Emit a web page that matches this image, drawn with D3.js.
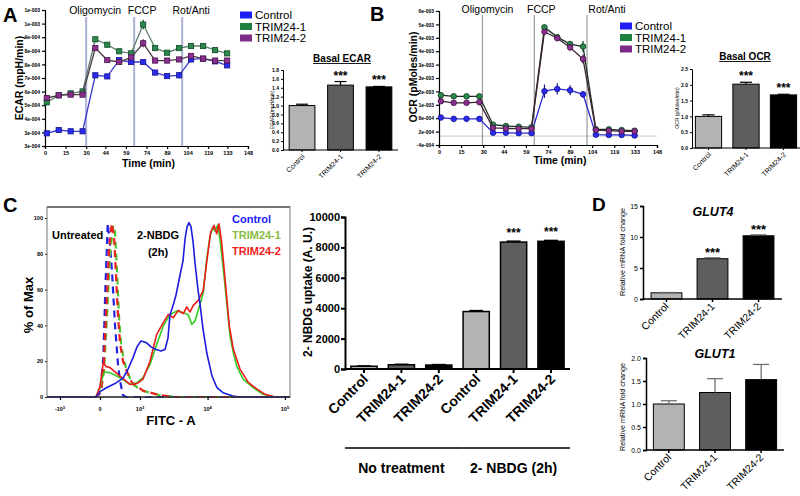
<!DOCTYPE html>
<html>
<head>
<meta charset="utf-8">
<script src="https://d3js.org/d3.v7.min.js"></script>
<style>
  html,body{margin:0;padding:0;background:#fff;}
  svg{display:block;}
</style>
</head>
<body>
<svg id="fig" width="800" height="496"></svg>
<script>
// ================= DATA =================
const seriesNames = ["Control", "TRIM24-1", "TRIM24-2"];
const times = [1.3, 10, 18.7, 27.4, 36.7, 45.4, 54.1, 62.8, 71.6, 80.3, 89, 97.8, 106.5, 115.3, 124, 132.8];
const timeTicks = [0, 15, 30, 44, 59, 74, 89, 104, 119, 133, 148];
const injectionNames = ["Oligomycin", "FCCP", "Rot/Anti"];
const injectionTimesA = [30, 65, 100];
const injectionTimesB = [29.5, 64.7, 100.5];

// ECAR (x1e-4 mpH/min)
const ecarControl = [3.31, 3.52, 3.44, 3.44, 6.94, 6.87, 7.89, 7.77, 7.77, 7.11, 6.89, 6.94, 7.93, 7.98, 7.81, 7.56];
const ecarTrim1   = [5.25, 5.69, 5.81, 5.93, 9.19, 8.85, 8.44, 8.31, 10.11, 8.64, 8.35, 8.64, 8.77, 8.77, 8.51, 8.31];
const ecarTrim2   = [5.52, 5.69, 5.73, 5.73, 8.64, 7.89, 7.77, 8.06, 8.94, 7.86, 7.86, 7.93, 8.15, 7.98, 7.86, 7.86];
const ecarControlErr = [0.10, 0.08, 0.06, 0.06, 0.12, 0.10, 0.12, 0.10, 0.12, 0.12, 0.12, 0.20, 0.12, 0.15, 0.15, 0.12];
const ecarTrim1Err   = [0.10, 0.08, 0.06, 0.08, 0.12, 0.10, 0.10, 0.10, 0.30, 0.15, 0.15, 0.15, 0.10, 0.12, 0.15, 0.15];
const ecarTrim2Err   = [0.10, 0.08, 0.08, 0.08, 0.12, 0.10, 0.10, 0.10, 0.25, 0.12, 0.12, 0.12, 0.12, 0.15, 0.15, 0.12];
const ecarTickValues = [2.52, 3.37, 4.22, 5.07, 5.92, 6.77, 7.62, 8.47, 9.32, 10.17, 11.02];
const ecarTickLabels = ["3e-004", "3e-004", "4e-004", "5e-004", "6e-004", "7e-004", "8e-004", "8e-004", "9e-004", "1e-003", "1e-003"];

// OCR (x1e-3 pMoles/min)
const ocrControl = [0.83, 0.77, 0.77, 0.77, 0.15, 0.15, 0.13, 0.13, 2.01, 2.11, 2.05, 1.87, 0.06, 0.05, 0.05, 0.03];
const ocrTrim1   = [1.83, 1.78, 1.78, 1.78, 0.51, 0.45, 0.42, 0.39, 4.87, 4.43, 4.12, 4.01, 0.30, 0.30, 0.27, 0.24];
const ocrTrim2   = [1.56, 1.49, 1.49, 1.52, 0.37, 0.34, 0.33, 0.33, 4.67, 4.38, 3.97, 3.45, 0.27, 0.24, 0.21, 0.21];
const ocrControlErr = [0.05, 0.04, 0.04, 0.04, 0.04, 0.04, 0.04, 0.04, 0.30, 0.25, 0.22, 0.15, 0.04, 0.04, 0.04, 0.04];
const ocrTrim1Err   = [0.05, 0.04, 0.04, 0.04, 0.04, 0.04, 0.04, 0.04, 0.08, 0.10, 0.12, 0.25, 0.04, 0.04, 0.04, 0.04];
const ocrTrim2Err   = [0.05, 0.04, 0.04, 0.04, 0.04, 0.04, 0.04, 0.04, 0.08, 0.10, 0.12, 0.20, 0.04, 0.04, 0.04, 0.04];
const ocrTickValues = [-0.4, 0.2, 0.8, 1.4, 2.0, 2.6, 3.2, 3.8, 4.4, 5.0, 5.6];
const ocrTickLabels = ["-4e-004", "2e-004", "8e-004", "1e-003", "2e-003", "3e-003", "3e-003", "4e-003", "4e-003", "5e-003", "6e-003"];

// Basal bars
const basalEcar = [1.0, 1.46, 1.42];
const basalEcarErr = [0.03, 0.08, 0.01];
const basalEcarTicks = [0, 0.2, 0.4, 0.6, 0.8, 1.0, 1.2, 1.4, 1.6, 1.8];
const basalOcr = [1.0, 2.02, 1.68];
const basalOcrErr = [0.05, 0.06, 0.02];
const basalOcrTicks = [0, 0.5, 1.0, 1.5, 2.0, 2.5];

// 2-NBDG uptake
const uptakeCategories = ["Control", "TRIM24-1", "TRIM24-2", "Control", "TRIM24-1", "TRIM24-2"];
const uptakeValues = [180, 280, 260, 3780, 8350, 8400];
const uptakeErr = [20, 30, 30, 60, 60, 60];
const uptakeTicks = [0, 2000, 4000, 6000, 8000, 10000];
const uptakeGroups = ["No treatment", "2- NBDG (2h)"];

// qPCR
const glut4 = [1.0, 6.5, 10.2];
const glut4Err = [0.05, 0.15, 0.15];
const glut4Ticks = [0, 5, 10, 15];
const glut1 = [1.0, 1.25, 1.53];
const glut1Err = [0.07, 0.30, 0.33];
const glut1Ticks = [0, 0.5, 1.0, 1.5, 2.0];

// Flow cytometry histograms: [FITC-A, % of Max]
const flowNbdgControl = [[-1671,0],[-56,0],[0,3],[86,5],[248,7.5],[432,10.5],[570,15.5],[731,22],[878,28],[1042,31.3],[1277,30.5],[1549,28],[1863,26.5],[2229,25.7],[2561,26.5],[2835,33],[3035,46],[3355,51],[3702,57],[4217,68],[4645,76],[4950,88],[5279,95],[5621,97.4],[5990,95],[6377,87],[6786,75],[7448,60],[7929,52],[8695,38],[9833,24],[11450,11.7],[13320,5.2],[15950,2.4],[21530,0.5],[26530,0],[116000,0]];
const flowNbdgTrim1 = [[-1671,0],[-56,0],[0,5],[27,10],[56,14],[153,13.6],[358,10.8],[632,7.1],[878,8],[1132,10.8],[1492,18.2],[1912,29.4],[2415,39.7],[3035,46],[3789,48],[4693,47],[5499,46],[6120,40.6],[6786,42.5],[7929,51.8],[8771,58.3],[9738,77],[10770,89.9],[11690,94.6],[12540,92.7],[13610,96],[14580,88],[16110,71.4],[17840,52.8],[19690,34.1],[21730,24.8],[24040,17.3],[29260,9.9],[39340,5.2],[52420,1.5],[74610,0],[116000,0]];
const flowNbdgTrim2 = [[-1671,0],[-56,0],[0,6],[27,14],[46,19.2],[86,17],[153,16.4],[358,11.7],[632,7],[878,7.5],[1132,10],[1492,20],[1912,35],[2415,41.5],[2865,46.2],[3386,44.3],[3990,48.4],[4693,46.6],[5227,50.3],[5804,47.5],[6436,51.2],[7519,54],[8771,59.6],[9738,75.4],[11010,92.1],[12160,95.9],[13200,91.2],[14160,96.8],[15340,86.3],[17460,60.3],[19280,39.8],[21730,26.8],[26530,15.6],[33930,8.2],[43520,4.5],[55620,1.5],[74610,0],[116000,0]];
const flowUntreatedControl = [[-1671,0],[-56,0],[0,2],[46,22],[75,59],[114,97],[153,85],[189,70],[248,40],[312,18],[358,9],[432,1],[512,0],[116000,0]];
const flowUntreatedTrim1 = [[-1671,0],[-56,0],[13,3],[56,15],[102,45],[153,80],[214,96],[248,92],[290,70],[334,45],[382,30],[458,20],[569,13],[731,7],[1132,3.4],[2150,1],[3583,0],[116000,0]];
const flowUntreatedTrim2 = [[-1671,0],[-56,0],[13,3],[48,15],[86,45],[135,82],[184,97],[228,90],[268,68],[312,45],[358,30],[432,20],[541,14],[697,8],[1132,3.5],[2150,1],[3583,0],[116000,0]];
const flowXTicks = [-1000, 0, 1000, 10000, 100000];
const flowXTickBase = ["-10", "0", "10", "10", "10"];
const flowXTickExp = ["3", "", "3", "4", "5"];
const flowYTicks = [0, 20, 40, 60, 80, 100];

// ================= DRAWING =================
const FONT = '"Liberation Sans", Arial, Helvetica, sans-serif';
const svg = d3.select("#fig");
svg.append("rect").attr("width", 800).attr("height", 496).attr("fill", "#fff");

function txt(g, x, y, s, o = {}) {
  const t = g.append("text").attr("x", x).attr("y", y).text(s)
    .attr("font-family", FONT).attr("font-size", o.fs || 12)
    .attr("font-weight", o.fw || "normal").attr("fill", o.fill || "#000")
    .attr("text-anchor", o.anchor || "start");
  if (o.italic) t.attr("font-style", "italic");
  if (o.rot != null) t.attr("transform", `rotate(${o.rot},${x},${y})`);
  return t;
}
function styleAxis(sel, fs, fw, sw) {
  sel.attr("font-family", FONT);
  sel.select(".domain").attr("stroke", "#000").attr("stroke-width", sw || 1.2);
  sel.selectAll(".tick line").attr("stroke", "#000").attr("stroke-width", sw || 1.2);
  sel.selectAll(".tick text").attr("font-size", fs).attr("font-weight", fw).attr("fill", "#000");
}

// Panel labels
txt(svg, 3, 22, "A", {fs: 20, fw: "bold"});
txt(svg, 370, 21, "B", {fs: 20, fw: "bold"});
txt(svg, 3, 212, "C", {fs: 20, fw: "bold"});
txt(svg, 592, 211, "D", {fs: 19, fw: "bold"});

// ---------- Seahorse line panels ----------
function drawSeahorse(o) {
  const g = svg.append("g");
  const x = d3.scaleLinear().domain([0, 148]).range([o.x0, o.x1]);
  const y = d3.scaleLinear().domain(o.yDomain).range([o.yBottom, o.yTop]);
  if (o.zeroLine) {
    g.append("line").attr("x1", o.x0).attr("x2", o.x1).attr("y1", y(0)).attr("y2", y(0))
      .attr("stroke", "#c8c8c8").attr("stroke-width", 1);
  }
  o.injTimes.forEach((t, i) => {
    g.append("line").attr("x1", x(t)).attr("x2", x(t)).attr("y1", o.injTop).attr("y2", o.yBottom)
      .attr("stroke", o.injColor).attr("stroke-width", o.injWidth);
    txt(g, x(t) + o.injDx[i], o.injLabelY, injectionNames[i], {fs: 10.5, anchor: "middle"});
  });
  const ya = g.append("g").attr("transform", `translate(${o.x0},0)`)
    .call(d3.axisLeft(y).tickValues(o.yTicks).tickFormat((d, i) => o.yLabels[i]).tickSize(3).tickPadding(2));
  styleAxis(ya, 5, "bold", 1.2);
  const xa = g.append("g").attr("transform", `translate(0,${o.yBottom})`)
    .call(d3.axisBottom(x).tickValues(timeTicks).tickSize(3).tickPadding(2));
  styleAxis(xa, 5.5, "bold", 1.2);

  o.series.forEach(s => {
    const pts = times.map((t, i) => ({t, v: s.vals[i], e: s.errs[i]}));
    g.append("path").datum(pts)
      .attr("d", d3.line().x(d => x(d.t)).y(d => y(d.v)))
      .attr("fill", "none").attr("stroke", s.line).attr("stroke-width", 1.3);
    g.selectAll(null).data(pts).join("line")
      .attr("x1", d => x(d.t)).attr("x2", d => x(d.t))
      .attr("y1", d => y(d.v - d.e)).attr("y2", d => y(d.v + d.e))
      .attr("stroke", s.stroke).attr("stroke-width", 1.2);
    if (o.marker === "square") {
      g.selectAll(null).data(pts).join("rect")
        .attr("x", d => x(d.t) - 2.6).attr("y", d => y(d.v) - 2.6)
        .attr("width", 5.2).attr("height", 5.2)
        .attr("fill", s.color).attr("stroke", s.stroke).attr("stroke-width", 0.8);
    } else {
      g.selectAll(null).data(pts).join("circle")
        .attr("cx", d => x(d.t)).attr("cy", d => y(d.v)).attr("r", 2.8)
        .attr("fill", s.color).attr("stroke", s.stroke).attr("stroke-width", 0.8);
    }
  });
  txt(g, o.yTitleX, o.yTitleY, o.yTitle, {fs: 10.5, fw: "bold", anchor: "middle", rot: -90});
  txt(g, (o.x0 + o.x1) / 2 + o.xTitleDx, o.xTitleY, "Time (min)", {fs: 10.5, fw: "bold", anchor: "middle"});
  // legend
  o.series.forEach((s, i) => {
    g.append("rect").attr("x", o.legX).attr("y", o.legY[i] - 3.5).attr("width", 12).attr("height", 7)
      .attr("fill", s.leg);
    txt(g, o.legX + 15, o.legY[i] + 4, seriesNames[i], {fs: 11.5});
  });
}

drawSeahorse({
  x0: 45, x1: 248, yTop: 10, yBottom: 146, yDomain: [2.52, 11.02],
  yTicks: ecarTickValues, yLabels: ecarTickLabels,
  injTimes: injectionTimesA, injColor: "#aeb2da", injWidth: 2, injTop: 17, injLabelY: 14, injDx: [9, 8, 9],
  marker: "square", zeroLine: false,
  series: [
    {vals: ecarControl, errs: ecarControlErr, color: "#2a2af0", stroke: "#15158a", line: "#3a3ac8", leg: "#1f1ff5"},
    {vals: ecarTrim1, errs: ecarTrim1Err, color: "#2a8a4e", stroke: "#0f4a26", line: "#5f7f6b", leg: "#1e7f40"},
    {vals: ecarTrim2, errs: ecarTrim2Err, color: "#8c3090", stroke: "#4a1550", line: "#4d3845", leg: "#7b2c86"}
  ],
  yTitle: "ECAR (mpH/min)", yTitleX: 23, yTitleY: 78, xTitleDx: 2, xTitleY: 167,
  legX: 240, legY: [15, 26.5, 38]
});

drawSeahorse({
  x0: 439, x1: 657, yTop: 11, yBottom: 145, yDomain: [-0.4, 5.6],
  yTicks: ocrTickValues, yLabels: ocrTickLabels,
  injTimes: injectionTimesB, injColor: "#9a9a9a", injWidth: 1.2, injTop: 15, injLabelY: 13, injDx: [5, 7, 20],
  marker: "circle", zeroLine: true,
  series: [
    {vals: ocrControl, errs: ocrControlErr, color: "#2a2af0", stroke: "#15158a", line: "#2a2ad0", leg: "#1f1ff5"},
    {vals: ocrTrim1, errs: ocrTrim1Err, color: "#2a8a4e", stroke: "#0f3a1e", line: "#1c2e22", leg: "#1e7f40"},
    {vals: ocrTrim2, errs: ocrTrim2Err, color: "#8c3090", stroke: "#3a1040", line: "#3a2233", leg: "#7b2c86"}
  ],
  yTitle: "OCR (pMoles/min)", yTitleX: 417, yTitleY: 77, xTitleDx: 12, xTitleY: 164,
  legX: 620, legY: [26, 37.5, 49]
});

// ---------- Bar panels ----------
function drawBars(o) {
  const g = svg.append("g");
  const n = o.values.length;
  const x = d3.scaleBand().domain(d3.range(n)).range([o.xLeft, o.xRight])
    .paddingInner(o.pi).paddingOuter(o.po);
  const y = d3.scaleLinear().domain([0, o.yMax]).range([o.yZero, o.yTop]);
  const bw = x.bandwidth();
  g.selectAll(null).data(o.values).join("rect")
    .attr("x", (d, i) => x(i)).attr("y", d => y(d))
    .attr("width", bw).attr("height", d => y(0) - y(d))
    .attr("fill", (d, i) => o.colors[i % 3]).attr("stroke", "#000").attr("stroke-width", o.barStroke || 1);
  o.values.forEach((v, i) => {
    const cx = x(i) + bw / 2, e = o.errs[i];
    g.append("line").attr("x1", cx).attr("x2", cx).attr("y1", y(v)).attr("y2", y(v + e))
      .attr("stroke", o.errColor).attr("stroke-width", o.errWidth || 1.2);
    g.append("line").attr("x1", cx - o.cap).attr("x2", cx + o.cap).attr("y1", y(v + e)).attr("y2", y(v + e))
      .attr("stroke", o.errColor).attr("stroke-width", o.errWidth || 1.2);
    if (o.stars && o.stars[i]) {
      txt(g, cx, y(v + e) - o.starGap, "***", {fs: o.starFs, fw: "bold", anchor: "middle"});
    }
  });
  const ya = g.append("g").attr("transform", `translate(${o.xLeft},0)`)
    .call(d3.axisLeft(y).tickValues(o.yTicks).tickFormat(o.fmt).tickSize(o.tickLen).tickPadding(o.tickPad || 2));
  styleAxis(ya, o.tickFs, o.tickFw, o.axisWidth);
  const xa = g.append("g").attr("transform", `translate(0,${o.yZero})`)
    .call(d3.axisBottom(x).tickSize(o.tickLen).tickFormat(""));
  styleAxis(xa, 1, "normal", o.axisWidth);
  xa.select(".domain").attr("d", `M${o.xLeft},0H${o.xRight}`);
  o.cats.forEach((c, i) => {
    const cx = x(i) + bw / 2 + o.catDx;
    const cy = o.yZero + o.catDy;
    txt(g, cx, cy, c, {fs: o.catFs, fw: o.catFw, anchor: "end", rot: -45});
  });
  if (o.title) {
    const t = txt(g, o.titleX, o.titleY, o.title, {fs: o.titleFs, fw: "bold", anchor: "middle", italic: o.titleItalic});
    if (o.underline) {
      const w = t.node().getComputedTextLength();
      g.append("line").attr("x1", o.titleX - w / 2).attr("x2", o.titleX + w / 2)
        .attr("y1", o.titleY + 1.5).attr("y2", o.titleY + 1.5).attr("stroke", "#000").attr("stroke-width", 0.9);
    }
  }
  if (o.yTitle) {
    txt(g, o.yTitleX, o.yTitleY, o.yTitle, {fs: o.yTitleFs, fw: o.yTitleFw || "normal", anchor: "middle", rot: -90});
  }
  return {x, y};
}

const barColors = ["#b3b3b3", "#5e5e5e", "#000000"];

drawBars({
  values: basalEcar, errs: basalEcarErr, cats: seriesNames, colors: barColors,
  xLeft: 283, xRight: 398, pi: 0.33, po: 0.16, yZero: 150, yTop: 70, yMax: 1.8,
  yTicks: basalEcarTicks, fmt: d3.format(".1f"), tickLen: 2, tickFs: 5, tickFw: "bold", axisWidth: 1,
  errColor: "#000", cap: 6, stars: [false, true, true], starFs: 12, starGap: 2,
  catFs: 7, catFw: "normal", catDx: 3, catDy: 7,
  title: "Basal ECAR", titleX: 342, titleY: 62, titleFs: 10, underline: true,
  yTitle: "ECAR (mpH/min)", yTitleX: 274, yTitleY: 110, yTitleFs: 5
});

drawBars({
  values: basalOcr, errs: basalOcrErr, cats: seriesNames, colors: barColors,
  xLeft: 692, xRight: 800, pi: 0.3, po: 0.09, yZero: 148, yTop: 69, yMax: 2.5,
  yTicks: basalOcrTicks, fmt: d3.format(".1f"), tickLen: 2, tickFs: 5, tickFw: "bold", axisWidth: 1,
  errColor: "#000", cap: 6, stars: [false, true, true], starFs: 12, starGap: 2,
  catFs: 7, catFw: "normal", catDx: 3, catDy: 7,
  title: "Basal OCR", titleX: 745, titleY: 60, titleFs: 10, underline: true,
  yTitle: "OCR (pMoles/min)", yTitleX: 679, yTitleY: 108, yTitleFs: 5
});

const up = drawBars({
  values: uptakeValues, errs: uptakeErr, cats: uptakeCategories, colors: barColors,
  xLeft: 345, xRight: 570, pi: 0.3, po: 0.158, yZero: 369, yTop: 217, yMax: 10000,
  yTicks: uptakeTicks, fmt: d3.format("d"), tickLen: 4, tickFs: 11, tickFw: "bold", axisWidth: 2, tickPad: 1,
  errColor: "#000", errWidth: 1.5, cap: 7, stars: [false, false, false, false, true, true], starFs: 12, starGap: 4,
  catFs: 14, catFw: "bold", catDx: 5, catDy: 11,
  barStroke: 1.5,
  yTitle: "2- NBDG uptake (A. U.)", yTitleX: 312, yTitleY: 292, yTitleFs: 12, yTitleFw: "bold"
});
// group brackets
{
  const g = svg.append("g");
  const bw = up.x.bandwidth();
  [[0, 2], [3, 5]].forEach((r, k) => {
    const xa = up.x(r[0]) - 6, xb = up.x(r[1]) + bw + 6;
    g.append("line").attr("x1", xa).attr("x2", xb).attr("y1", 448).attr("y2", 448)
      .attr("stroke", "#000").attr("stroke-width", 1.5);
    txt(g, (xa + xb) / 2, 473, uptakeGroups[k], {fs: 14, fw: "bold", anchor: "middle"});
  });
}

drawBars({
  values: glut4, errs: glut4Err, cats: seriesNames, colors: barColors,
  xLeft: 643, xRight: 782, pi: 0.33, po: 0.175, yZero: 299, yTop: 206, yMax: 15,
  yTicks: glut4Ticks, fmt: d3.format("d"), tickLen: 3, tickFs: 7, tickFw: "normal", axisWidth: 1.5,
  errColor: "#666", cap: 8, stars: [false, true, true], starFs: 13, starGap: 1,
  catFs: 10.5, catFw: "normal", catDx: 3, catDy: 8,
  title: "GLUT4", titleX: 713, titleY: 216, titleFs: 12.5, titleItalic: true,
  yTitle: "Relative mRNA fold change", yTitleX: 625, yTitleY: 252, yTitleFs: 7.2
});

drawBars({
  values: glut1, errs: glut1Err, cats: seriesNames, colors: barColors,
  xLeft: 646, xRight: 784, pi: 0.33, po: 0.16, yZero: 450, yTop: 358, yMax: 2.0,
  yTicks: glut1Ticks, fmt: d3.format(".1f"), tickLen: 3, tickFs: 7, tickFw: "normal", axisWidth: 1.5,
  errColor: "#666", cap: 8,
  catFs: 10.5, catFw: "normal", catDx: 3, catDy: 8,
  title: "GLUT1", titleX: 715, titleY: 358, titleFs: 12.5, titleItalic: true,
  yTitle: "Relative mRNA fold change", yTitleX: 625, yTitleY: 407, yTitleFs: 7.2
});

// ---------- Flow cytometry histogram ----------
{
  const g = svg.append("g");
  const fx = d3.scaleSymlog().constant(450).domain([-1671, 116000]).range([47, 290]);
  const fy = d3.scaleLinear().domain([0, 100]).range([397, 218]);
  g.append("rect").attr("x", 47).attr("y", 207).attr("width", 243).attr("height", 190)
    .attr("fill", "#fff").attr("stroke", "#8a8a8a").attr("stroke-width", 1.2);
  g.append("line").attr("x1", 47).attr("x2", 290).attr("y1", 207).attr("y2", 207)
    .attr("stroke", "#777").attr("stroke-width", 2);
  const line = d3.line().x(d => fx(d[0])).y(d => fy(d[1]));
  const draw = (data, color, dashed) => g.append("path").datum(data).attr("d", line)
    .attr("fill", "none").attr("stroke", color).attr("stroke-width", dashed ? 2.2 : 1.6)
    .attr("stroke-dasharray", dashed ? "7,5" : null).attr("stroke-linejoin", "round");
  draw(flowUntreatedControl, "#2424e0", true);
  draw(flowUntreatedTrim1, "#4cc42a", true);
  draw(flowUntreatedTrim2, "#ee2020", true);
  draw(flowNbdgTrim1, "#33cc22", false);
  draw(flowNbdgTrim2, "#ee1c1c", false);
  draw(flowNbdgControl, "#1c1cdc", false);
  // axes
  const ya = g.append("g").attr("transform", "translate(47,0)")
    .call(d3.axisLeft(fy).tickValues(flowYTicks).tickSize(2).tickPadding(2));
  styleAxis(ya, 5.5, "bold", 0.8);
  ya.select(".domain").remove();
  const xa = g.append("g").attr("transform", "translate(0,397)")
    .call(d3.axisBottom(fx).tickValues(flowXTicks).tickSize(3).tickFormat(""));
  styleAxis(xa, 5, "bold", 1.2);
  xa.select(".domain").attr("d", "M47,0H290").attr("stroke", "#333").attr("stroke-width", 1.6);
  flowXTicks.forEach((v, i) => {
    const t = txt(g, fx(v), 411, flowXTickBase[i], {fs: 5.5, fw: "bold", anchor: "middle"});
    if (flowXTickExp[i]) t.append("tspan").attr("dy", -2.5).attr("font-size", 4).text(flowXTickExp[i]);
  });
  txt(g, 33, 305, "% of Max", {fs: 13, fw: "bold", anchor: "middle", rot: -90});
  txt(g, 171, 425, "FITC - A", {fs: 13, fw: "bold", anchor: "middle"});
  txt(g, 52, 239, "Untreated", {fs: 11, fw: "bold"});
  txt(g, 158, 239, "2-NBDG", {fs: 11, fw: "bold", anchor: "middle"});
  txt(g, 158, 256, "(2h)", {fs: 11, fw: "bold", anchor: "middle"});
  const legColors = ["#1a1aff", "#88bb44", "#ee1c1c"];
  seriesNames.forEach((s, i) => txt(g, 232, 223 + i * 16, s, {fs: 11, fw: "bold", fill: legColors[i]}));
}
</script>
</body>
</html>
